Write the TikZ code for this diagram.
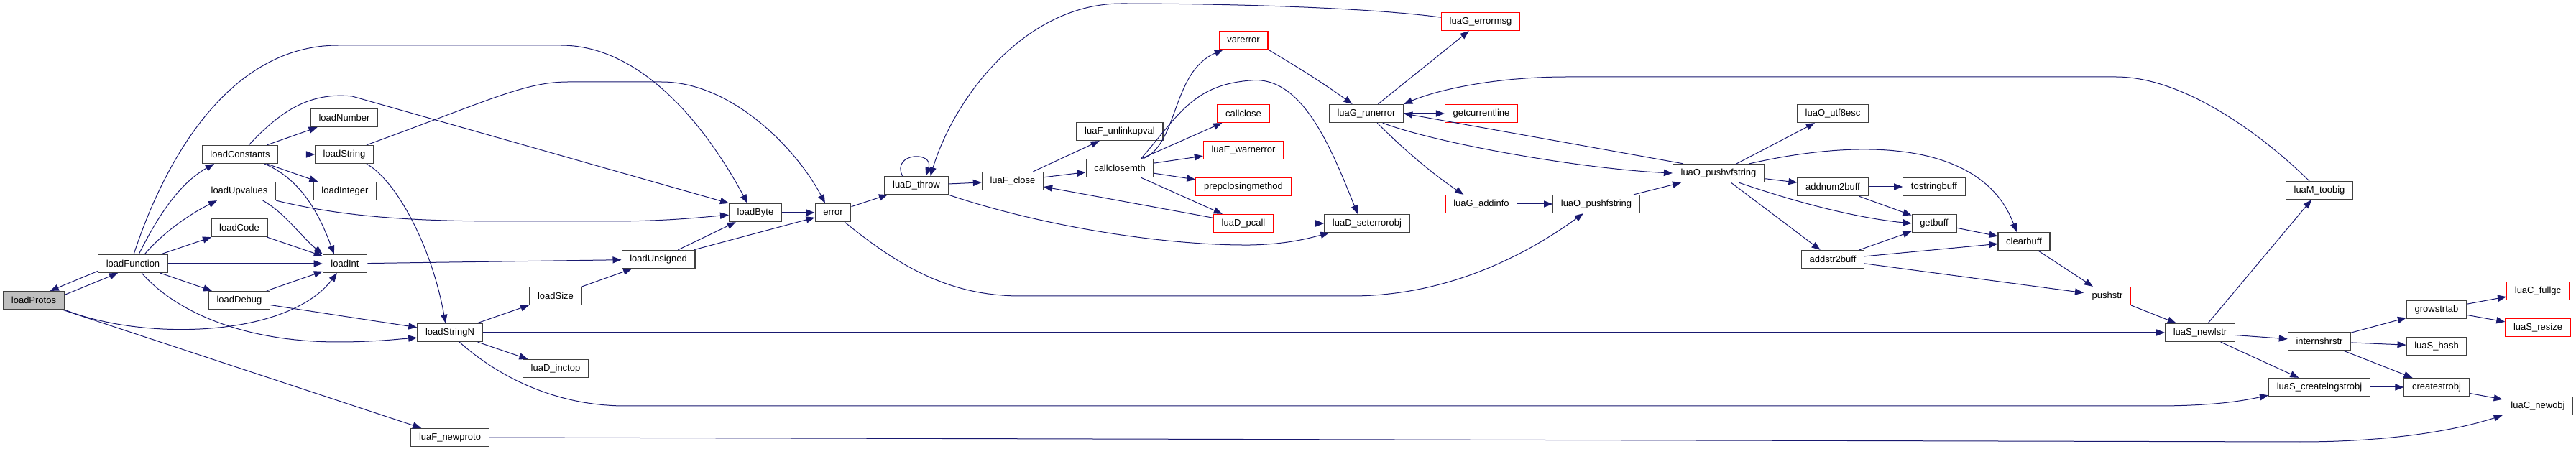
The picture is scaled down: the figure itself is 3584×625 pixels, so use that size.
\documentclass[tikz,border=0pt]{standalone}
\usepackage{fontspec}
\setmainfont{Liberation Sans}
\usetikzlibrary{arrows.meta}
\definecolor{nightblue}{HTML}{191970}
\definecolor{framegray}{HTML}{404040}
\definecolor{shadegray}{HTML}{BFBFBF}
\definecolor{calleered}{HTML}{FF0000}
\begin{document}
\begin{tikzpicture}[
  x=0.5pt, y=-0.5pt,
  fn/.style={
    draw=framegray, fill=white, line width=0.55pt,
    font=\fontsize{6.5}{7}\selectfont,
    inner xsep=5.6pt, inner ysep=0pt, minimum height=12.6pt
  },
  fnred/.style={fn, draw=calleered},
  arr/.style={-{Triangle[length=6pt,width=4.6pt]}, color=nightblue, line width=0.5pt}
]
  \useasboundingbox (0,0) rectangle (3584,625);
  \node[fn, fill=shadegray] (protos) at (47,418) {loadProtos};
  \node[fn] (func)     at (185,367)  {loadFunction};
  \node[fn] (consts)   at (334,215)  {loadConstants};
  \node[fn] (upvals)   at (333,266)  {loadUpvalues};
  \node[fn] (code)     at (333,317)  {loadCode};
  \node[fn] (debug)    at (333,418)  {loadDebug};
  \node[fn] (number)   at (479,164)  {loadNumber};
  \node[fn] (string)   at (479,215)  {loadString};
  \node[fn] (integer)  at (480,266)  {loadInteger};
  \node[fn] (int)      at (480,367)  {loadInt};
  \node[fn] (strN)     at (626,463)  {loadStringN};
  \node[fn] (newproto) at (626,609)  {luaF\_newproto};
  \node[fn] (size)     at (773,412)  {loadSize};
  \node[fn] (inctop)   at (773,513)  {luaD\_inctop};
  \node[fn] (unsigned) at (916,361)  {loadUnsigned};
  \node[fn] (byte)     at (1051,296) {loadByte};
  \node[fn] (error)    at (1159,296) {error};
  \node[fn] (throw)    at (1275,258) {luaD\_throw};
  \node[fn] (fclose)   at (1409,252) {luaF\_close};
  \node[fn] (unlink)   at (1558,183) {luaF\_unlinkupval};
  \node[fn] (closemth) at (1558,234) {callclosemth};
  \node[fnred] (varerror)  at (1730,56)  {varerror};
  \node[fnred] (callclose) at (1730,158) {callclose};
  \node[fnred] (warnerror) at (1730,209) {luaE\_warnerror};
  \node[fnred] (prepclose) at (1730,260) {prepclosingmethod};
  \node[fnred] (pcall)     at (1730,311) {luaD\_pcall};
  \node[fn] (runerror) at (1901,158) {luaG\_runerror};
  \node[fn] (seterr)   at (1902,311) {luaD\_seterrorobj};
  \node[fnred] (errormsg) at (2060,30)  {luaG\_errormsg};
  \node[fnred] (curline)  at (2061,158) {getcurrentline};
  \node[fnred] (addinfo)  at (2061,284) {luaG\_addinfo};
  \node[fn] (pushf)     at (2221,284) {luaO\_pushfstring};
  \node[fn] (pushvf)    at (2391,241) {luaO\_pushvfstring};
  \node[fn] (utf8)      at (2550,158) {luaO\_utf8esc};
  \node[fn] (addnum)    at (2550,260) {addnum2buff};
  \node[fn] (addstr)    at (2550,361) {addstr2buff};
  \node[fn] (tostr)     at (2691,260) {tostringbuff};
  \node[fn] (getbuff)   at (2691,311) {getbuff};
  \node[fn] (clearbuff) at (2816,336) {clearbuff};
  \node[fnred] (pushstr) at (2932,412) {pushstr};
  \node[fn] (newlstr)   at (3061,463) {luaS\_newlstr};
  \node[fn] (toobig)    at (3227,265) {luaM\_toobig};
  \node[fn] (intern)    at (3227,475) {internshrstr};
  \node[fn] (lngstr)    at (3227,539) {luaS\_createlngstrobj};
  \node[fn] (grow)      at (3390,431) {growstrtab};
  \node[fn] (hash)      at (3390,482) {luaS\_hash};
  \node[fn] (createstr) at (3390,539) {createstrobj};
  \node[fnred] (fullgc) at (3531,405) {luaC\_fullgc};
  \node[fnred] (resize) at (3531,456) {luaS\_resize};
  \node[fn] (newobj)    at (3531,565) {luaC\_newobj};

  \draw[arr] (func.192) -- (protos.30);
  \draw[arr] (protos.10) -- (func.212);
  \draw[arr] (protos) -- (newproto);
  \draw[arr] (protos.south east) .. controls (200,475) and (400,470) .. (int.230);
  \draw[arr] (func.85) .. controls (230,220) and (320,63) .. (471,63) -- (780,63)
    .. controls (900,63) and (990,190) .. (byte.130);
  \draw[arr] (func.58) .. controls (220,300) and (250,255) .. (consts.200);
  \draw[arr] (func.39) .. controls (230,320) and (270,295) .. (upvals.203);
  \draw[arr] (func) -- (code);
  \draw[arr] (func) -- (int);
  \draw[arr] (func) -- (debug);
  \draw[arr] (func.-47) .. controls (250,440) and (350,476) .. (470,476)
    .. controls (520,476) and (555,472) .. (strN.189);
  \draw[arr] (consts.47) .. controls (390,155) and (430,128) .. (490,134) -- (byte.north west);
  \draw[arr] (consts) -- (number);
  \draw[arr] (consts) -- (string);
  \draw[arr] (consts) -- (integer);
  \draw[arr] (consts.-21) .. controls (420,250) and (445,300) .. (int.139);
  \draw[arr] (string.23) .. controls (680,140) and (730,114) .. (790,114) -- (920,114)
    .. controls (1020,114) and (1110,210) .. (error.130);
  \draw[arr] (string.-23) .. controls (550,250) and (600,340) .. (strN.115);
  \draw[arr] (upvals.south east) .. controls (470,300) and (560,308) .. (700,308) -- (850,308)
    .. controls (930,308) and (980,302) .. (byte.185);
  \draw[arr] (upvals.-22) .. controls (395,295) and (420,330) .. (int.north west);
  \draw[arr] (code) -- (int);
  \draw[arr] (debug) -- (int);
  \draw[arr] (debug) -- (strN.171);
  \draw[arr] (int) -- (unsigned);
  \draw[arr] (strN) -- (size);
  \draw[arr] (strN) -- (inctop);
  \draw[arr] (strN) -- (newlstr);
  \draw[arr] (strN.-45) .. controls (700,530) and (780,565) .. (870,565) -- (3000,565)
    .. controls (3080,565) and (3120,558) .. (lngstr.189);
  \draw[arr] (newproto.east) -- (3200,615) .. controls (3330,615) and (3420,598) .. (newobj.south west);
  \draw[arr] (size) -- (unsigned);
  \draw[arr] (unsigned) -- (byte);
  \draw[arr] (unsigned) -- (error);
  \draw[arr] (byte) -- (error);
  \draw[arr] (error) -- (throw);
  \draw[arr] (error.-39) .. controls (1250,370) and (1320,412) .. (1420,412) -- (1880,412)
    .. controls (2020,412) and (2130,350) .. (pushf.216);
  \draw[arr] (throw.146) .. controls (1240,212) and (1300,210) .. (throw.45);
  \draw[arr] (throw) -- (fclose);
  \draw[arr] (throw.south east) .. controls (1450,315) and (1620,342) .. (1740,341)
    .. controls (1790,340) and (1820,332) .. (seterr.194);
  \draw[arr] (errormsg.174) .. controls (1900,10) and (1700,5) .. (1560,5)
    .. controls (1430,5) and (1330,130) .. (throw.34);
  \draw[arr] (fclose) -- (unlink);
  \draw[arr] (fclose) -- (closemth);
  \draw[arr] (closemth.22) .. controls (1640,200) and (1630,100) .. (varerror.205);
  \draw[arr] (closemth.24) .. controls (1640,160) and (1660,118) .. (1740,112)
    .. controls (1810,105) and (1850,200) .. (seterr.135);
  \draw[arr] (closemth) -- (callclose);
  \draw[arr] (closemth) -- (warnerror);
  \draw[arr] (closemth) -- (prepclose);
  \draw[arr] (closemth) -- (pcall);
  \draw[arr] (pcall) -- (fclose);
  \draw[arr] (pcall) -- (seterr);
  \draw[arr] (varerror.south east) .. controls (1800,90) and (1840,115) .. (runerror.146);
  \draw[arr] (runerror) -- (errormsg);
  \draw[arr] (runerror) -- (curline);
  \draw[arr] (runerror.-41) .. controls (1950,205) and (1990,240) .. (addinfo.152);
  \draw[arr] (runerror.-30) .. controls (2000,200) and (2200,235) .. (pushvf.west);
  \draw[arr] (pushvf.165) -- (runerror.east);
  \draw[arr] (toobig.137) .. controls (3150,190) and (3040,107) .. (2944,107) -- (2180,107)
    .. controls (2080,107) and (2000,125) .. (runerror.north east);
  \draw[arr] (addinfo) -- (pushf);
  \draw[arr] (pushf) -- (pushvf);
  \draw[arr] (pushvf) -- (utf8);
  \draw[arr] (pushvf) -- (addnum);
  \draw[arr] (pushvf) -- (addstr);
  \draw[arr] (pushvf.-25) .. controls (2480,275) and (2570,302) .. (getbuff.west);
  \draw[arr] (pushvf.17) .. controls (2600,190) and (2760,200) .. (clearbuff.128);
  \draw[arr] (addnum) -- (tostr);
  \draw[arr] (addnum) -- (getbuff);
  \draw[arr] (addstr) -- (getbuff);
  \draw[arr] (addstr) -- (clearbuff);
  \draw[arr] (addstr) -- (pushstr);
  \draw[arr] (getbuff) -- (clearbuff);
  \draw[arr] (clearbuff) -- (pushstr);
  \draw[arr] (pushstr) -- (newlstr);
  \draw[arr] (newlstr) -- (toobig);
  \draw[arr] (newlstr) -- (intern);
  \draw[arr] (newlstr) -- (lngstr);
  \draw[arr] (intern) -- (grow);
  \draw[arr] (intern) -- (hash);
  \draw[arr] (intern) -- (createstr);
  \draw[arr] (grow) -- (fullgc);
  \draw[arr] (grow) -- (resize);
  \draw[arr] (lngstr) -- (createstr);
  \draw[arr] (createstr) -- (newobj);
\end{tikzpicture}
\end{document}
